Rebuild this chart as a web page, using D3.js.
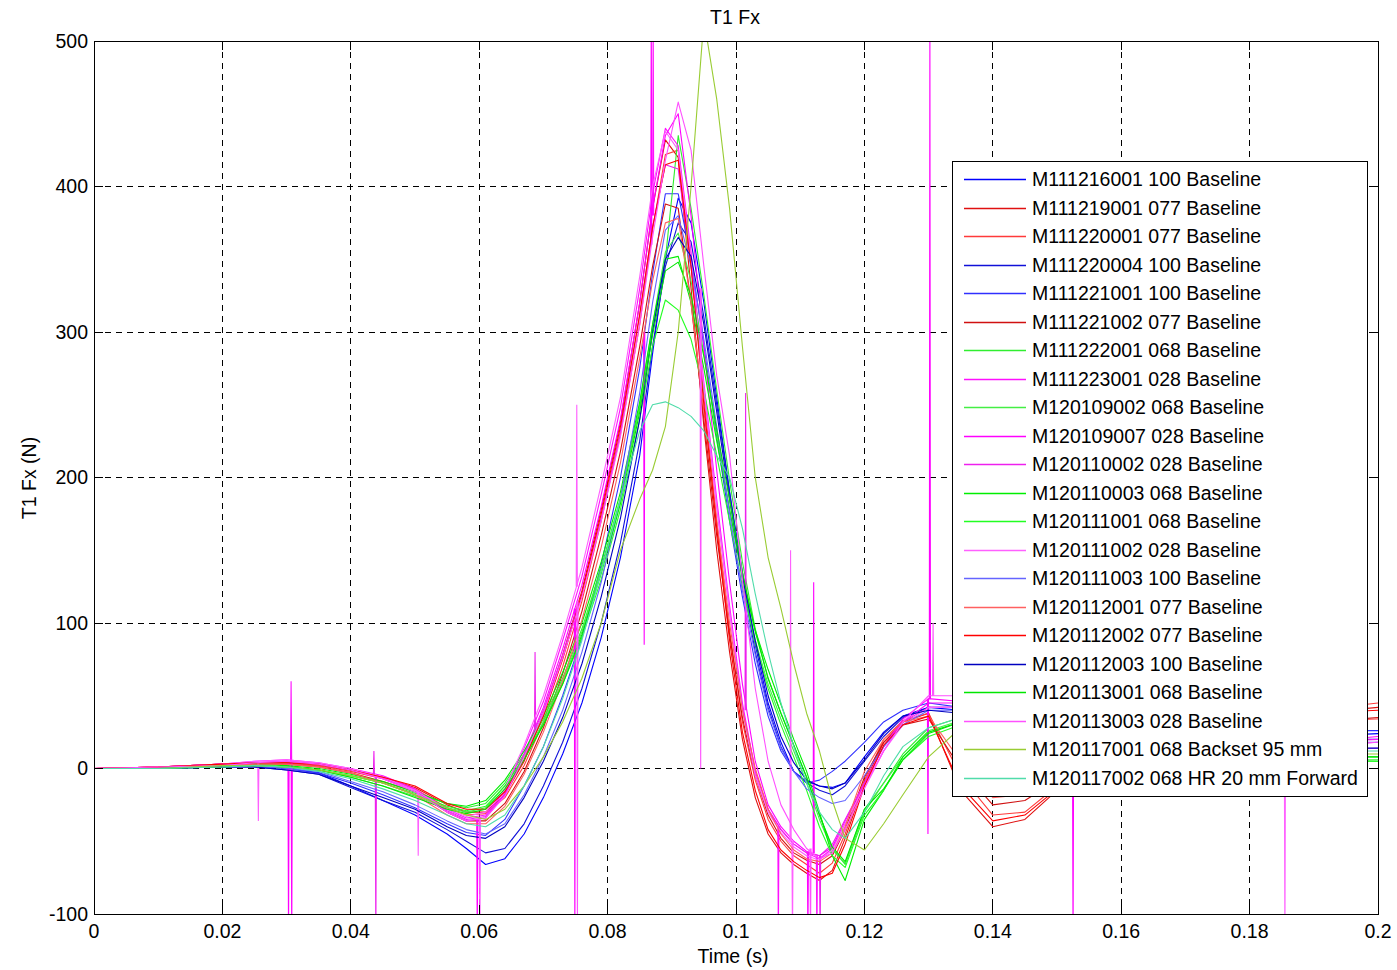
<!DOCTYPE html>
<html><head><meta charset="utf-8">
<script src="https://cdn.jsdelivr.net/npm/d3@7"></script>
<style>
body{margin:0;background:#fff;}
svg text{font-family:"Liberation Sans",Arial,Helvetica,sans-serif;fill:#000;}
</style>
</head><body>
<svg id="chart" width="1397" height="970"></svg>
<script>
// ---------------- DATA ----------------
const times = [0,0.01,0.02,0.025,0.03, 0.035,0.04,0.045,0.05,0.055, 0.058,0.061,0.064,0.067,0.07,
  0.073,0.076,0.079,0.082,0.085, 0.087,0.089,0.091,0.093,0.095, 0.097,0.099,0.101,0.103,0.105,
  0.107,0.109,0.111,0.113,0.115, 0.117,0.12,0.123,0.126,0.13, 0.135,0.14,0.145,0.15,0.16,
  0.17,0.18,0.19,0.2];

const seriesNames = [
  "M111216001 100 Baseline","M111219001 077 Baseline","M111220001 077 Baseline","M111220004 100 Baseline",
  "M111221001 100 Baseline","M111221002 077 Baseline","M111222001 068 Baseline","M111223001 028 Baseline",
  "M120109002 068 Baseline","M120109007 028 Baseline","M120110002 028 Baseline","M120110003 068 Baseline",
  "M120111001 068 Baseline","M120111002 028 Baseline","M120111003 100 Baseline","M120112001 077 Baseline",
  "M120112002 077 Baseline","M120112003 100 Baseline","M120113001 068 Baseline","M120113003 028 Baseline",
  "M120117001 068 Backset 95 mm","M120117002 068 HR 20 mm Forward"];

const s01 = [0,0,1,2,0, -3,-12,-22,-32,-45, -55,-66,-62,-45,-20, 10,45,90,145,215, 285,350,392,375,320, 255,190,135,85,45, 18,-2,-9,-12,-13, -10,8,25,36,42, 40,36,30,26,22, 20,22,22,24];
const s02 = [0,1,3,4,4, 2,-1,-6,-13,-25, -30,-30,-18,5,38, 78,122,178,238,320, 385,432,420,330,235, 150,80,20,-20,-45, -58,-66,-72,-77,-70, -48,-10,18,32,38, -15,-40,-35,-15,8, 22,30,38,42];
const s03 = [0,1,3,4,4, 2,-2,-7,-14,-27, -32,-31,-20,2,32, 70,115,170,230,305, 370,422,425,350,255, 170,95,32,-8,-35, -50,-60,-66,-72,-65, -45,-8,20,33,38, -5,-32,-30,-12,10, 25,33,40,45];
const s04 = [0,0,1,1,-1, -4,-13,-22,-30,-42, -50,-58,-55,-38,-12, 18,55,100,155,225, 290,345,375,362,310, 250,190,130,80,42, 15,-2,-10,-15,-18, -12,5,22,35,42, 42,38,32,28,22, 18,18,20,20];
const s05 = [0,0,2,2,0, -3,-10,-18,-27,-38, -44,-46,-35,-12,15, 50,90,140,200,275, 340,395,395,350,290, 228,170,118,72,36, 12,-2,-10,-8,-2, 5,18,32,40,45, 42,38,30,26,24, 24,25,26,26];
const s06 = [0,1,3,3,3, 1,-3,-9,-16,-30, -36,-36,-24,-2,28, 65,108,160,218,290, 345,388,385,320,240, 160,92,35,-5,-32, -48,-58,-63,-66,-60, -42,-6,18,30,34, 0,-25,-22,-8,10, 22,28,32,35];
const s07 = [0,0,2,2,1, -1,-5,-10,-17,-24, -27,-24,-10,10,34, 62,96,138,186,248, 300,350,435,385,325, 260,198,142,96,62, 38,16,-6,-32,-55, -66,-30,-10,10,28, 35,35,30,25,15, 10,8,8,8];
const s08 = [0,1,3,5,6, 4,0,-5,-14,-28, -34,-32,-15,14,46, 88,132,188,248,330, 395,440,428,355,265, 185,112,45,-2,-28, -42,-52,-58,-62,-55, -38,-12,12,32,45, 45,35,25,18,12, 12,15,18,20];
const s09 = [0,0,2,2,1, -1,-6,-12,-19,-27, -30,-27,-12,8,32, 60,94,136,185,250, 305,355,368,335,285, 230,178,130,88,58, 34,12,-10,-35,-56, -65,-28,-10,8,26, 33,33,28,22,14, 10,8,6,6];
const s10 = [0,1,3,4,5, 3,-1,-7,-16,-30, -36,-34,-18,10,42, 82,126,180,240,320, 385,435,450,380,290, 205,128,58,5,-25, -40,-50,-57,-60,-54, -36,-10,15,34,48, 46,36,26,18,12, 12,15,18,22];
const s11 = [0,1,2,4,5, 3,-1,-6,-15,-29, -35,-33,-17,10,40, 78,120,172,232,312, 372,415,412,345,260, 180,108,42,-2,-28, -42,-52,-58,-60,-52, -35,-10,15,32,42, 42,32,22,15,10, 10,12,15,18];
const s12 = [0,0,2,3,2, 0,-4,-9,-16,-24, -26,-22,-8,12,36, 66,100,142,190,252, 305,350,352,320,275, 225,178,132,95,68, 44,20,-2,-30,-60, -77,-35,-15,8,25, 32,32,28,22,14, 10,8,6,5];
const s13 = [0,0,2,2,1, -1,-5,-10,-18,-26, -29,-26,-12,8,30, 58,90,130,178,240, 290,322,315,295,260, 215,170,125,86,55, 30,8,-15,-40,-60, -68,-32,-15,6,22, 30,30,26,20,12, 8,6,5,5];
const s14 = [0,1,3,5,6, 4,0,-6,-15,-28, -33,-30,-14,16,50, 92,138,195,255,338, 400,438,425,350,262, 180,108,40,-5,-30, -44,-54,-60,-63,-56, -38,-12,12,30,42, 42,34,24,16,10, 8,10,12,14];
const s15 = [0,0,2,2,0, -2,-9,-16,-25,-36, -42,-45,-38,-18,8, 40,80,128,185,258, 320,370,380,345,295, 235,175,122,78,40, 14,-2,-14,-20,-24, -22,-5,15,30,40, 40,35,30,25,20, 18,18,18,18];
const s16 = [0,1,2,3,3, 1,-3,-10,-18,-32, -38,-38,-26,-4,25, 60,102,152,210,282, 335,375,378,320,245, 170,100,40,0,-28, -45,-56,-62,-64,-58, -40,-2,20,32,36, 5,-20,-18,-5,12, 22,28,32,34];
const s17 = [0,1,3,4,4, 3,-1,-6,-12,-24, -28,-28,-16,6,36, 75,120,175,235,312, 372,415,418,345,250, 165,88,25,-15,-42, -56,-64,-70,-75,-72, -52,-12,16,30,36, -12,-36,-32,-14,8, 24,32,38,40];
const s18 = [0,0,1,1,-1, -4,-12,-20,-28,-40, -46,-48,-40,-20,5, 35,72,118,172,240, 300,350,365,352,305, 245,185,132,88,50, 22,4,-8,-12,-14, -10,6,24,36,40, 38,34,28,24,20, 16,14,14,14];
const s19 = [0,0,1,2,1, -1,-6,-12,-20,-28, -31,-28,-14,6,30, 58,92,134,182,245, 298,342,348,325,283, 233,185,135,94,62, 38,16,-6,-32,-54, -64,-28,-14,6,24, 32,32,28,22,14, 10,8,8,8];
const s20 = [0,1,2,4,5, 3,-1,-7,-16,-30, -36,-34,-19,8,38, 76,118,170,228,305, 365,418,458,425,345, 270,215,130,55,5, -25,-42,-55,-62,-58, -42,-14,12,32,50, 50,40,28,20,14, 12,14,16,18];
const s21 = [0,0,2,2,1, -1,-5,-10,-18,-27, -32,-35,-28,-12,8, 32,62,100,150,185, 205,235,300,400,515, 460,385,290,200,145, 110,72,38,12,-22, -48,-56,-38,-18,8, 28,30,28,24,16, 12,10,10,10];
const s22 = [0,0,1,2,1, -2,-7,-14,-22,-32, -38,-40,-32,-12,15, 48,88,135,185,232, 250,252,248,242,232, 215,200,165,120,80, 45,15,-10,-30,-42, -48,-30,-5,15,28, 35,32,28,22,16, 14,12,12,12];

const seriesValues = [s01,s02,s03,s04,s05,s06,s07,s08,s09,s10,s11,s12,s13,s14,s15,s16,s17,s18,s19,s20,s21,s22];

// single-sample spikes: [series index, time, baseline value, spike value]
const spikes = [
  [13,0.0256,4,-36],[9,0.0303,4,-120],[9,0.0308,4,-120],[7,0.0307,4,60],
  [10,0.0436,-5,12],[10,0.0439,-5,-120],[13,0.0505,-16,-60],
  [9,0.0597,-35,-120],[19,0.0601,-35,-120],[10,0.0687,25,80],
  [9,0.0749,110,-120],[19,0.0753,115,-120],[13,0.0752,125,250],
  [9,0.0857,300,85],[9,0.0868,360,520],[7,0.0871,380,520],
  [19,0.0945,330,0],[10,0.1015,40,258],[7,0.1066,-40,-120],
  [13,0.1085,-50,150],[13,0.1088,-50,-120],[9,0.1112,-57,-120],[19,0.1116,-55,-120],
  [9,0.1121,-58,128],[7,0.1126,-60,-120],[10,0.1131,-60,-120],
  [9,0.1299,48,-45],[9,0.1302,48,520],[19,0.1307,50,100],
  [9,0.1525,18,-120],[13,0.1855,12,-120]];

const xTicks = [0,0.02,0.04,0.06,0.08,0.1,0.12,0.14,0.16,0.18,0.2];
const xTickLabels = ["0","0.02","0.04","0.06","0.08","0.1","0.12","0.14","0.16","0.18","0.2"];
const yTicks = [-100,0,100,200,300,400,500];
const yTickLabels = ["-100","0","100","200","300","400","500"];

// ---------------- STYLE ----------------
const palette = ["#0000ff","#e01010","#ff3a3a","#1010d8","#3030ff","#d01010","#30ee30","#ff10ff",
  "#44ee44","#ff00ff","#ee20ee","#00ee00","#22ff22","#ff60ff","#6464ff","#ff6060",
  "#ff0000","#0000c0","#00e600","#ff50ff","#99cc33","#50dcaa"];

const W = 1397, H = 970;
const L = 94, R = 1378, T = 41, B = 914;
const svg = d3.select("#chart");

const x = d3.scaleLinear().domain([0,0.2]).range([L,R]);
const y = d3.scaleLinear().domain([-100,500]).range([B,T]);

svg.append("rect").attr("x",0).attr("y",0).attr("width",W).attr("height",H).attr("fill","#fff");

svg.append("defs").append("clipPath").attr("id","plotclip")
  .append("rect").attr("x",L).attr("y",T).attr("width",R-L).attr("height",B-T);

// grid
const grid = svg.append("g");
xTicks.slice(1,-1).forEach(t=>{
  grid.append("line").attr("x1",x(t)).attr("x2",x(t)).attr("y1",T).attr("y2",B)
    .attr("stroke","#000").attr("stroke-width",1).attr("stroke-dasharray","6,5").attr("shape-rendering","crispEdges");
});
yTicks.slice(1,-1).forEach(v=>{
  grid.append("line").attr("x1",L).attr("x2",R).attr("y1",y(v)).attr("y2",y(v))
    .attr("stroke","#000").attr("stroke-width",1).attr("stroke-dasharray","6,5").attr("shape-rendering","crispEdges");
});

// series
const plot = svg.append("g").attr("clip-path","url(#plotclip)");
const line = d3.line().x(d=>x(d[0])).y(d=>y(d[1]));
seriesValues.forEach((vals,i)=>{
  const pts = times.map((t,k)=>[t,vals[k]]);
  plot.append("path").attr("d",line(pts)).attr("fill","none")
    .attr("stroke",palette[i]).attr("stroke-width",1.1).attr("stroke-linejoin","round");
  spikes.filter(s=>s[0]===i).forEach(s=>{
    const sp = [[s[1]-0.00009,s[2]],[s[1],s[3]],[s[1]+0.00009,s[2]]];
    plot.append("path").attr("d",line(sp)).attr("fill","none")
      .attr("stroke",palette[i]).attr("stroke-width",1.1);
  });
});

// axes box and ticks
const axes = svg.append("g");
axes.append("rect").attr("x",L).attr("y",T).attr("width",R-L).attr("height",B-T)
  .attr("fill","none").attr("stroke","#000").attr("stroke-width",1).attr("shape-rendering","crispEdges");
const tl = 9;
xTicks.forEach(t=>{
  axes.append("line").attr("x1",x(t)).attr("x2",x(t)).attr("y1",B).attr("y2",B-tl).attr("stroke","#000").attr("shape-rendering","crispEdges");
  axes.append("line").attr("x1",x(t)).attr("x2",x(t)).attr("y1",T).attr("y2",T+tl).attr("stroke","#000").attr("shape-rendering","crispEdges");
});
yTicks.forEach(v=>{
  axes.append("line").attr("x1",L).attr("x2",L+tl).attr("y1",y(v)).attr("y2",y(v)).attr("stroke","#000").attr("shape-rendering","crispEdges");
  axes.append("line").attr("x1",R).attr("x2",R-tl).attr("y1",y(v)).attr("y2",y(v)).attr("stroke","#000").attr("shape-rendering","crispEdges");
});
const fs = "19.5px";
xTicks.forEach((t,i)=>{
  axes.append("text").attr("x",x(t)).attr("y",B+24).attr("text-anchor","middle")
    .style("font-size",fs).text(xTickLabels[i]);
});
yTicks.forEach((v,i)=>{
  axes.append("text").attr("x",L-6).attr("y",y(v)).attr("dy","0.35em").attr("text-anchor","end")
    .style("font-size",fs).text(yTickLabels[i]);
});
svg.append("text").attr("x",735).attr("y",24).attr("text-anchor","middle").style("font-size",fs).text("T1 Fx");
svg.append("text").attr("x",733).attr("y",963).attr("text-anchor","middle").style("font-size",fs).text("Time (s)");
svg.append("text").attr("transform","translate(36,478) rotate(-90)").attr("text-anchor","middle")
  .style("font-size",fs).text("T1 Fx (N)");

// legend
const lg = svg.append("g");
const lgX = 952, lgY = 161, lgW = 415, lgH = 635;
lg.append("rect").attr("x",lgX).attr("y",lgY).attr("width",lgW).attr("height",lgH)
  .attr("fill","#fff").attr("stroke","#000").attr("stroke-width",1).attr("shape-rendering","crispEdges");
const rowStep = 28.5;
seriesNames.forEach((n,i)=>{
  const ry = Math.round(179 + i*rowStep) + 0.5;
  lg.append("line").attr("x1",964).attr("x2",1026).attr("y1",ry).attr("y2",ry)
    .attr("stroke",palette[i]).attr("stroke-width",1.3);
  lg.append("text").attr("x",1032).attr("y",ry).attr("dy","0.35em").style("font-size",fs).text(n);
});
</script>
</body></html>
